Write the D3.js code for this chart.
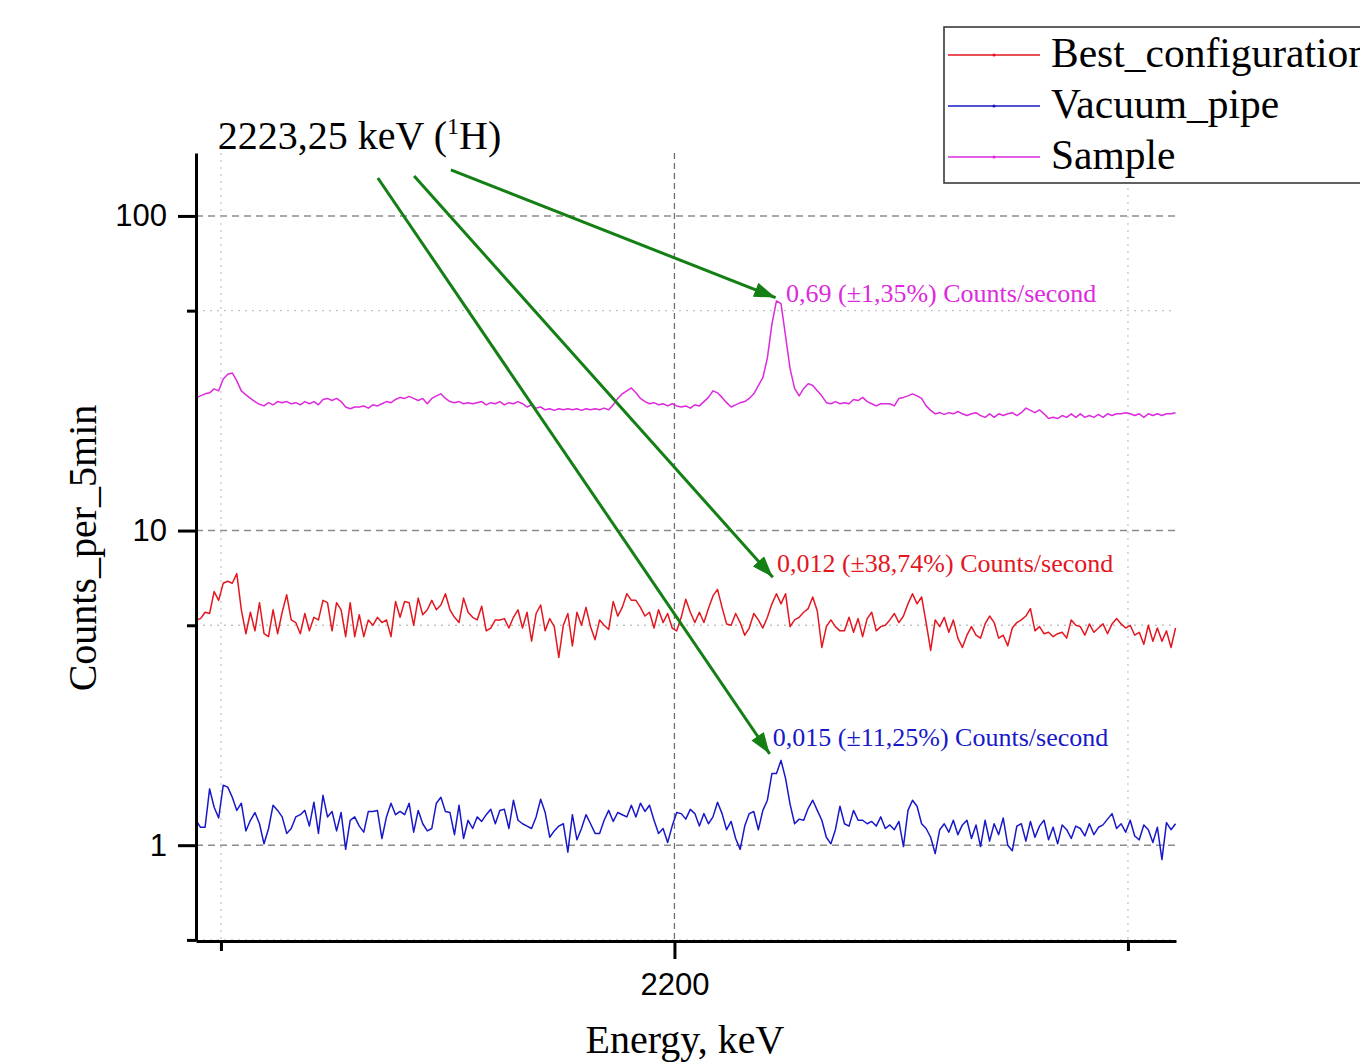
<!DOCTYPE html>
<html>
<head>
<meta charset="utf-8">
<script src="https://cdn.jsdelivr.net/npm/d3@7"></script>
<style>
    body { margin: 0; background: #fff; }
    svg { display: block; }
</style>
</head>
<body>
<div id="chart"></div>
<script>
// DATA //
// spectrum channels: 1 keV wide, first channel at 2094.5 keV
const energyStart = 2094.5
const channelWidth = 1.0

const bestConfiguration = [
    5.2, 5.25, 5.5, 5.45, 6.4, 6.0, 6.8, 6.9, 6.8, 7.3,
    5.6, 4.7, 5.5, 4.8, 5.9, 4.7, 4.6, 5.6, 4.7, 5.5,
    6.25, 5.2, 5.1, 4.7, 5.45, 4.8, 5.3, 5.2, 6.0, 5.9,
    4.8, 5.9, 5.6, 4.6, 5.9, 4.6, 5.4, 4.6, 5.2, 5.0,
    5.3, 5.1, 5.2, 4.6, 5.95, 5.3, 5.95, 5.9, 5.0, 6.1,
    5.4, 5.6, 6.0, 5.6, 5.8, 6.3, 5.6, 5.3, 5.1, 6.1,
    5.5, 5.3, 5.2, 5.75, 4.8, 4.9, 5.2, 5.2, 5.25, 4.9,
    5.3, 5.6, 4.9, 5.5, 4.45, 5.45, 5.8, 4.8, 5.25, 4.95,
    3.95, 5.0, 5.45, 4.3, 5.5, 5.0, 5.7, 4.95, 4.5, 5.2,
    5.0, 4.85, 5.95, 5.35, 5.7, 6.3, 6.0, 6.0, 5.7, 5.35,
    5.5, 4.9, 5.6, 5.1, 5.45, 4.9, 4.8, 5.3, 6.05, 5.5,
    5.1, 5.5, 5.1, 5.65, 6.2, 6.5, 5.7, 5.05, 5.0, 5.45,
    5.1, 4.65, 4.9, 5.45, 5.2, 4.9, 5.3, 5.85, 6.3, 5.85,
    6.3, 4.95, 5.2, 5.3, 5.5, 5.65, 6.15, 5.55, 4.25, 4.95,
    5.2, 4.95, 4.8, 4.8, 5.3, 4.75, 5.25, 4.6, 5.25, 5.5,
    4.8, 4.95, 5.0, 5.2, 5.45, 5.1, 5.35, 5.85, 6.3, 5.85,
    6.15, 5.1, 4.16, 5.2, 4.95, 5.3, 4.75, 5.2, 4.55, 4.25,
    4.65, 4.95, 4.65, 4.55, 5.05, 5.35, 5.1, 4.55, 4.65, 4.3,
    4.9, 5.1, 5.2, 5.35, 5.65, 4.8, 4.95, 4.7, 4.75, 4.6,
    4.7, 4.75, 4.55, 5.2, 5.0, 4.95, 4.65, 5.05, 4.75, 4.9,
    5.05, 4.7, 5.05, 5.25, 5.05, 4.9, 5.0, 4.65, 4.75, 4.35,
    5.0, 4.45, 4.9, 4.45, 4.8, 4.25, 4.9
]

const vacuumPipe = [
    1.2, 1.14, 1.14, 1.51, 1.32, 1.22, 1.55, 1.53, 1.42, 1.29,
    1.36, 1.11, 1.2, 1.27, 1.17, 1.01, 1.13, 1.34, 1.29, 1.23,
    1.09, 1.13, 1.23, 1.25, 1.29, 1.15, 1.37, 1.09, 1.44, 1.23,
    1.28, 1.11, 1.27, 0.97, 1.2, 1.23, 1.15, 1.1, 1.28, 1.28,
    1.29, 1.05, 1.23, 1.36, 1.25, 1.28, 1.25, 1.36, 1.1, 1.29,
    1.17, 1.11, 1.13, 1.36, 1.42, 1.28, 1.27, 1.08, 1.34, 1.05,
    1.2, 1.13, 1.23, 1.19, 1.25, 1.3, 1.17, 1.29, 1.3, 1.13,
    1.39, 1.2, 1.17, 1.15, 1.13, 1.23, 1.4, 1.27, 1.06, 1.11,
    1.15, 1.17, 0.95, 1.25, 1.04, 1.13, 1.25, 1.17, 1.09, 1.09,
    1.2, 1.29, 1.19, 1.27, 1.25, 1.23, 1.34, 1.23, 1.36, 1.28,
    1.34, 1.2, 1.09, 1.13, 1.02, 1.15, 1.27, 1.26, 1.21, 1.3,
    1.26, 1.15, 1.26, 1.17, 1.23, 1.37, 1.26, 1.12, 1.19, 1.05,
    0.97, 1.15, 1.26, 1.28, 1.12, 1.29, 1.39, 1.69, 1.69, 1.86,
    1.63, 1.35, 1.17, 1.21, 1.2, 1.31, 1.39, 1.29, 1.2, 1.06,
    1.01, 1.12, 1.33, 1.17, 1.15, 1.29, 1.2, 1.2, 1.17, 1.19,
    1.15, 1.23, 1.13, 1.16, 1.12, 1.19, 0.99, 1.29, 1.39, 1.33,
    1.17, 1.13, 1.06, 0.94, 1.12, 1.17, 1.1, 1.2, 1.08, 1.16,
    1.2, 1.05, 1.16, 0.99, 1.2, 1.03, 1.17, 1.08, 1.22, 1.0,
    0.96, 1.15, 1.17, 1.03, 1.19, 1.06, 1.15, 1.2, 1.04, 1.14,
    1.01, 1.16, 1.12, 1.05, 1.15, 1.13, 1.07, 1.17, 1.08, 1.14,
    1.16, 1.21, 1.26, 1.13, 1.17, 1.1, 1.2, 1.07, 1.04, 1.16,
    1.12, 1.02, 1.14, 0.9, 1.18, 1.12, 1.17
]

const sample = [
    26.4, 26.8, 27.2, 27.4, 28.2, 27.8, 30.3, 31.4, 31.7, 29.9,
    27.8, 27.0, 26.3, 25.7, 25.2, 24.9, 25.5, 25.1, 25.7, 25.5,
    25.7, 25.3, 25.5, 25.1, 25.7, 25.3, 25.7, 25.1, 26.1, 26.3,
    25.9, 26.3, 25.7, 24.7, 24.4, 24.7, 24.7, 24.9, 24.5, 25.1,
    24.9, 25.3, 25.7, 25.5, 26.1, 26.5, 26.3, 26.7, 26.3, 25.9,
    26.3, 25.3, 26.3, 26.8, 27.2, 26.3, 25.7, 25.5, 25.7, 25.3,
    25.5, 25.3, 25.5, 25.7, 25.1, 25.5, 25.3, 25.7, 25.1, 25.5,
    25.3, 25.7, 25.3, 24.7, 25.1, 24.5, 24.7, 24.2, 24.4, 24.1,
    24.4, 24.2, 24.4, 24.2, 24.4, 24.1, 24.4, 24.2, 24.4, 24.2,
    24.5, 24.2, 25.1, 26.3, 27.2, 27.8, 28.4, 27.4, 26.3, 25.7,
    25.3, 25.5, 25.1, 25.3, 24.9, 25.3, 24.9, 24.7, 24.9, 24.5,
    25.1, 24.9, 25.7, 26.5, 27.8, 27.4, 26.5, 25.5, 24.7, 25.1,
    25.5, 25.7, 26.3, 27.2, 28.9, 30.6, 35.4, 45.4, 53.7, 52.6,
    41.6, 32.7, 28.3, 26.8, 28.3, 29.3, 28.9, 27.8, 26.8, 25.5,
    25.3, 25.7, 25.3, 25.5, 25.3, 26.1, 25.9, 26.5, 25.7, 25.3,
    24.9, 25.3, 25.3, 25.3, 24.9, 26.3, 26.5, 26.8, 27.2, 26.8,
    26.3, 24.9, 24.1, 23.5, 23.7, 23.4, 23.7, 23.5, 23.9, 23.5,
    23.2, 23.5, 23.7, 23.2, 22.9, 23.5, 22.9, 23.5, 23.2, 23.5,
    23.7, 23.2, 23.7, 24.5, 24.1, 23.7, 24.2, 23.5, 22.7, 22.9,
    22.7, 23.2, 22.9, 23.5, 22.9, 23.5, 22.9, 23.2, 22.9, 23.4,
    22.9, 23.5, 23.2, 23.5, 23.5, 23.7, 23.5, 23.2, 23.5, 22.9,
    23.5, 23.2, 23.5, 23.2, 23.5, 23.5, 23.7
]

const seriesNames = ["Best_configuration", "Vacuum_pipe", "Sample"]
const seriesColors = ["#e3171f", "#1818c8", "#dc2adc"]

const yMajorTicks = [1, 10, 100]
const yMinorTicks = [0.5, 5, 50]
const xMajorTicks = [2200]
const xMinorTicks = [2100, 2300]

// peak annotations: arrow start (energy, counts), arrow tip, label anchor
const peakNotes = [
    { text: "0,69 (\u00b11,35%) Counts/second", color: "#dc2adc",
      from: [2150.7, 140], to: [2222.3, 55], label: [2224.6, 53.3] },
    { text: "0,012 (\u00b138,74%) Counts/second", color: "#e3171f",
      from: [2142.6, 134], to: [2221.7, 7.1], label: [2222.6, 7.41] },
    { text: "0,015 (\u00b111,25%) Counts/second", color: "#1818c8",
      from: [2134.6, 132], to: [2221.0, 1.95], label: [2221.7, 2.06] },
]

// DIMENSIONS //
let dimensions = {
    width: 1360,
    height: 1062,
    margin: {
        top: 153,
        right: 184,
        bottom: 121,
        left: 196,
    },
}
dimensions.boundedWidth = dimensions.width
    - dimensions.margin.left
    - dimensions.margin.right
dimensions.boundedHeight = dimensions.height
    - dimensions.margin.top
    - dimensions.margin.bottom

const xScale = d3.scaleLinear()
    .domain([2094.5, 2310.6])
    .range([0, dimensions.boundedWidth])

const yScale = d3.scaleLog()
    .domain([0.496, 158.5])
    .range([dimensions.boundedHeight, 0])

const energyAccessor = (d, i) => energyStart + i * channelWidth

const svg = d3.select("#chart")
    .append("svg")
    .attr("width", dimensions.width)
    .attr("height", dimensions.height)
    .style("background", "#fff")

svg.append("defs").selectAll("marker")
    .data(["arrowGreen"])
    .join("marker")
    .attr("id", d => d)
    .attr("viewBox", "0 0 20 14")
    .attr("refX", 20)
    .attr("refY", 7)
    .attr("markerUnits", "userSpaceOnUse")
    .attr("markerWidth", 22)
    .attr("markerHeight", 15)
    .attr("orient", "auto")
    .append("path")
    .attr("d", "M0,0 L20,7 L0,14 z")
    .attr("fill", "#147f14")

const bounds = svg.append("g")
    .attr("transform", `translate(${dimensions.margin.left},${dimensions.margin.top})`)

// GRID //
const grid = bounds.append("g")
grid.selectAll(".hmajor")
    .data(yMajorTicks)
    .join("line")
    .attr("x1", 0).attr("x2", dimensions.boundedWidth)
    .attr("y1", d => yScale(d)).attr("y2", d => yScale(d))
    .attr("stroke", "#8c8c8c")
    .attr("stroke-width", 1.6)
    .attr("stroke-dasharray", "7,5")

grid.selectAll(".hminor")
    .data(yMinorTicks)
    .join("line")
    .attr("x1", 0).attr("x2", dimensions.boundedWidth)
    .attr("y1", d => yScale(d)).attr("y2", d => yScale(d))
    .attr("stroke", "#c4c4c4")
    .attr("stroke-width", 1.3)
    .attr("stroke-dasharray", "2,5")

grid.selectAll(".vmajor")
    .data(xMajorTicks)
    .join("line")
    .attr("x1", d => xScale(d)).attr("x2", d => xScale(d))
    .attr("y1", 0).attr("y2", dimensions.boundedHeight)
    .attr("stroke", "#6e6e6e")
    .attr("stroke-width", 1.3)
    .attr("stroke-dasharray", "6,4")

grid.selectAll(".vminor")
    .data(xMinorTicks)
    .join("line")
    .attr("x1", d => xScale(d)).attr("x2", d => xScale(d))
    .attr("y1", 0).attr("y2", dimensions.boundedHeight)
    .attr("stroke", "#c8c8c8")
    .attr("stroke-width", 1.3)
    .attr("stroke-dasharray", "2,5")

// SPECTRA //
const lineGenerator = d3.line()
    .x((d, i) => xScale(energyAccessor(d, i)))
    .y(d => yScale(d))

bounds.selectAll(".spectrum")
    .data([bestConfiguration, vacuumPipe, sample])
    .join("path")
    .attr("class", "spectrum")
    .attr("d", d => lineGenerator(d))
    .attr("fill", "none")
    .attr("stroke", (d, i) => seriesColors[i])
    .attr("stroke-width", 1.5)
    .attr("stroke-linejoin", "round")

// AXES //
const axisFont = "'Liberation Sans', Arial, sans-serif"

const yAxis = bounds.append("g")
    .call(d3.axisLeft(yScale)
        .tickValues(yMajorTicks)
        .tickFormat(d3.format("d"))
        .tickSize(18)
        .tickSizeOuter(0)
        .tickPadding(11))
const yMinor = bounds.append("g")
    .call(d3.axisLeft(yScale)
        .tickValues(yMinorTicks)
        .tickFormat("")
        .tickSize(9)
        .tickSizeOuter(0))
yMinor.select(".domain").remove()

const xAxis = bounds.append("g")
    .attr("transform", `translate(0,${dimensions.boundedHeight})`)
    .call(d3.axisBottom(xScale)
        .tickValues(xMajorTicks)
        .tickFormat(d3.format("d"))
        .tickSize(18)
        .tickSizeOuter(0)
        .tickPadding(14))
const xMinor = bounds.append("g")
    .attr("transform", `translate(0,${dimensions.boundedHeight})`)
    .call(d3.axisBottom(xScale)
        .tickValues(xMinorTicks)
        .tickFormat("")
        .tickSize(10)
        .tickSizeOuter(0))
xMinor.select(".domain").remove()

;[yAxis, yMinor, xAxis, xMinor].forEach(ax => {
    ax.selectAll(".domain, line")
        .attr("stroke", "#000")
        .attr("stroke-width", 3)
    ax.selectAll("text")
        .attr("fill", "#000")
        .style("font-family", axisFont)
        .style("font-size", "31px")
})

const serif = "'Liberation Serif', 'Times New Roman', serif"

svg.append("text")
    .attr("transform", `translate(96, 548) rotate(-90)`)
    .attr("text-anchor", "middle")
    .style("font-family", serif)
    .style("font-size", "40px")
    .text("Counts_per_5min")

svg.append("text")
    .attr("x", 685)
    .attr("y", 1053)
    .attr("text-anchor", "middle")
    .style("font-family", serif)
    .style("font-size", "40px")
    .text("Energy, keV")

// ANNOTATIONS //
const lineText = bounds.append("text")
    .attr("x", xScale(2099.3))
    .attr("y", yScale(163))
    .style("font-family", serif)
    .style("font-size", "40px")
lineText.append("tspan").text("2223,25 keV (")
lineText.append("tspan")
    .attr("dy", -15)
    .style("font-size", "24px")
    .text("1")
lineText.append("tspan").attr("dy", 15).text("H)")

bounds.selectAll(".arrow")
    .data(peakNotes)
    .join("line")
    .attr("x1", d => xScale(d.from[0]))
    .attr("y1", d => yScale(d.from[1]))
    .attr("x2", d => xScale(d.to[0]))
    .attr("y2", d => yScale(d.to[1]))
    .attr("stroke", "#147f14")
    .attr("stroke-width", 3)
    .attr("marker-end", "url(#arrowGreen)")

bounds.selectAll(".peak-label")
    .data(peakNotes)
    .join("text")
    .attr("x", d => xScale(d.label[0]))
    .attr("y", d => yScale(d.label[1]))
    .attr("fill", d => d.color)
    .style("font-family", serif)
    .style("font-size", "26px")
    .text(d => d.text)

// LEGEND //
const legend = svg.append("g")
legend.append("rect")
    .attr("x", 944)
    .attr("y", 27)
    .attr("width", 460)
    .attr("height", 156)
    .attr("fill", "#fff")
    .attr("stroke", "#3a3a3a")
    .attr("stroke-width", 1.6)

const legendRows = legend.selectAll(".row")
    .data(seriesNames)
    .join("g")
    .attr("transform", (d, i) => `translate(0, ${i * 51})`)

legendRows.append("line")
    .attr("x1", 948).attr("x2", 1040)
    .attr("y1", 55).attr("y2", 55)
    .attr("stroke", (d, i) => seriesColors[i])
    .attr("stroke-width", 1.5)
legendRows.append("circle")
    .attr("cx", 994).attr("cy", 55).attr("r", 1.6)
    .attr("fill", (d, i) => seriesColors[i])
legendRows.append("text")
    .attr("x", 1051)
    .attr("y", 67)
    .style("font-family", serif)
    .style("font-size", "41.5px")
    .attr("fill", "#000")
    .text(d => d)
</script>
</body>
</html>
